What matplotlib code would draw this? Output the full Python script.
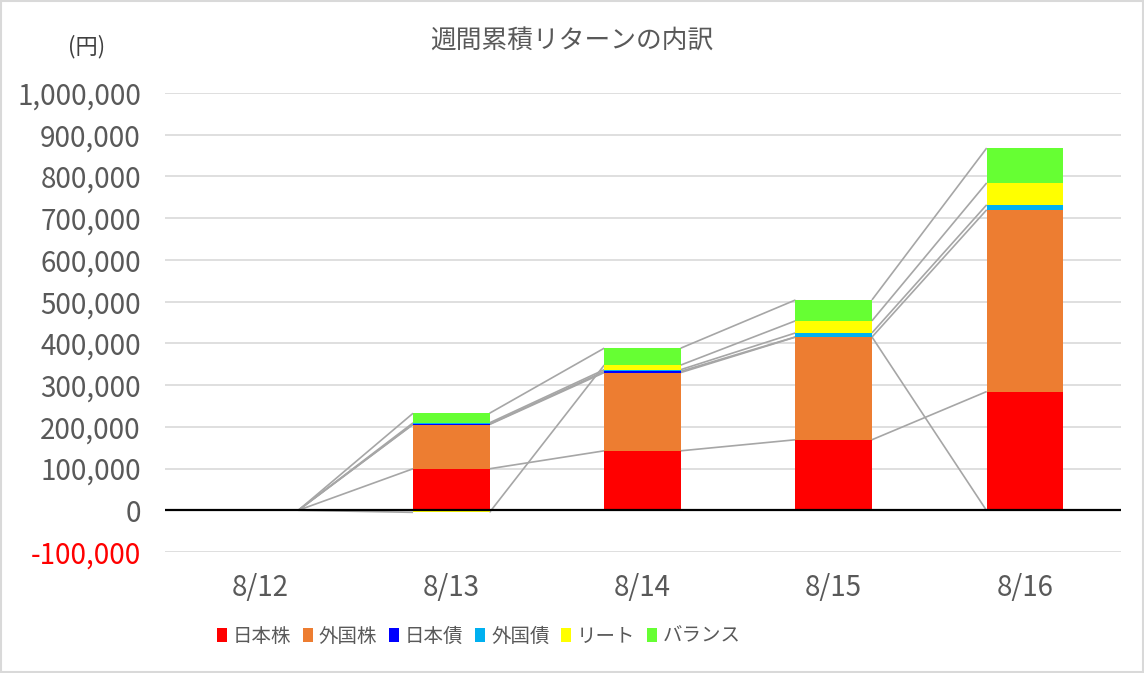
import matplotlib
matplotlib.use("Agg")
import matplotlib.pyplot as plt
import numpy as np
from matplotlib.patches import Patch, Rectangle

plt.rcParams['font.family'] = ['Noto Sans CJK JP', 'DejaVu Sans']

# ---- data ----
categories = ["8/12", "8/13", "8/14", "8/15", "8/16"]
series_names = ["日本株", "外国株", "日本債", "外国債", "リート", "バランス"]
jp_stock = [0, 99500, 142500, 169000, 284500]
fx_stock = [0, 106000, 187500, 246000, 435500]
jp_bond = [0, 1000, 3000, 500, -1000]
fx_bond = [0, 3000, 4000, 9500, 12000]
reit = [0, -5000, 11000, 29000, 52500]
balance = [0, 23000, 40500, 50000, 83500]
y_ticks = [-100000, 0, 100000, 200000, 300000, 400000, 500000,
           600000, 700000, 800000, 900000, 1000000]
y_tick_labels = ["-100,000", "0", "100,000", "200,000", "300,000", "400,000",
                 "500,000", "600,000", "700,000", "800,000", "900,000", "1,000,000"]
title = "週間累積リターンの内訳"
unit_label = "(円)"

colors = ["#FF0000", "#ED7D31", "#0000FF", "#00B0F0", "#FFFF00", "#66FF33"]
text_color = "#595959"

W, H = 1144, 673
fig = plt.figure(figsize=(W / 100, H / 100), dpi=100)
ax = fig.add_axes([164.5 / W, 1 - 552 / H, (1120.5 - 164.5) / W, (552 - 93) / H])

data = np.array([jp_stock, fx_stock, jp_bond, fx_bond, reit, balance], dtype=float)
x = np.arange(len(categories))
width = 0.4

pos_base = np.zeros(len(categories))
neg_base = np.zeros(len(categories))
ends = []
for i, name in enumerate(series_names):
    vals = data[i]
    bottoms = np.where(vals >= 0, pos_base, neg_base)
    ax.bar(x, vals, width, bottom=bottoms, color=colors[i], label=name, zorder=3, linewidth=0)
    end = bottoms + vals
    ends.append(end)
    pos_base = np.where(vals >= 0, pos_base + vals, pos_base)
    neg_base = np.where(vals < 0, neg_base + vals, neg_base)

# series lines
for end in ends:
    for j in range(len(categories) - 1):
        ax.plot([x[j] + width / 2, x[j + 1] - width / 2], [end[j], end[j + 1]],
                color="#A6A6A6", lw=1.2, zorder=2, solid_capstyle="butt")

ax.set_xlim(-0.5, len(categories) - 0.5)
ax.set_ylim(-100000, 1000000)
ax.set_yticks(y_ticks)
ax.set_yticklabels(y_tick_labels)
ax.set_xticks(x)
ax.set_xticklabels(categories)
for lbl, v in zip(ax.get_yticklabels(), y_ticks):
    lbl.set_color("#FF0000" if v < 0 else text_color)
ax.tick_params(axis='y', length=0, pad=17, labelsize=20)
ax.tick_params(axis='x', length=0, pad=15, labelsize=20, labelcolor=text_color)

for s in ax.spines.values():
    s.set_visible(False)
ax.grid(axis='y', color="#D9D9D9", lw=1.2, zorder=0)
ax.set_axisbelow(True)
ax.axhline(0, color="black", lw=1.6, zorder=4)

fig.text(572 / W, 1 - 42 / H, title, ha='center', va='center', fontsize=18.5, color=text_color)
fig.text(87 / W, 1 - 47 / H, unit_label, ha='center', va='center', fontsize=16, color="#404040")

handles = [Patch(facecolor=c, edgecolor='none') for c in colors]
fig.legend(handles, series_names, loc='center', bbox_to_anchor=(479 / W, 1 - 636 / H),
           ncol=6, frameon=False, fontsize=14, labelcolor=text_color,
           handlelength=0.52, handleheight=0.7, handletextpad=0.3, columnspacing=0.6)

fig.add_artist(Rectangle((0.001, 0.001), 0.998, 0.998, transform=fig.transFigure,
                         fill=False, edgecolor="#D9D9D9", lw=1.5))

fig.savefig("out.png", dpi=100)
